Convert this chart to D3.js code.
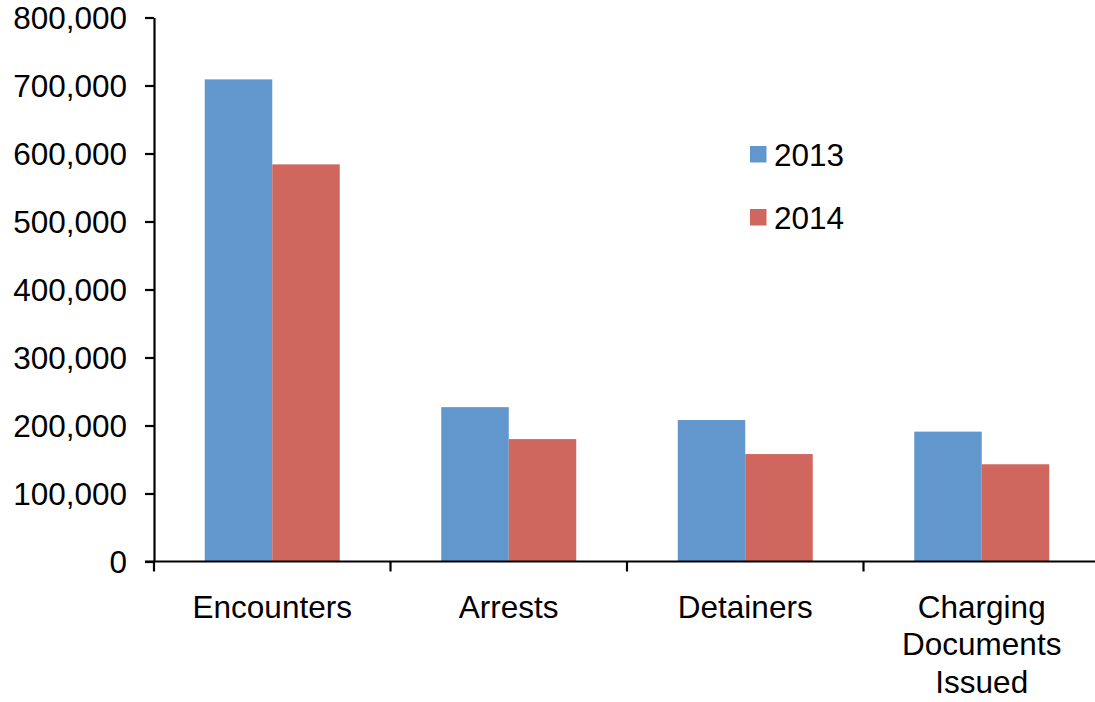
<!DOCTYPE html>
<html><head><meta charset="utf-8">
<script src="https://cdn.jsdelivr.net/npm/d3@7"></script>
<style>
html,body{margin:0;padding:0;background:#fff;}
svg{display:block;font-family:"Liberation Sans",Arial,sans-serif;}
</style></head>
<body><svg id="chart" width="1095" height="702"></svg>
<script>
const categories = ["Encounters", "Arrests", "Detainers", "Charging Documents Issued"];
const categoryLines = [["Encounters"], ["Arrests"], ["Detainers"], ["Charging", "Documents", "Issued"]];
const seriesNames = ["2013", "2014"];
const values2013 = [709000, 227000, 208000, 191000];
const values2014 = [584000, 180000, 158000, 143000];
const yTicks = [0, 100000, 200000, 300000, 400000, 500000, 600000, 700000, 800000];
const colors = ["#6197cc", "#cf675f"];

(function () {
const svg = d3.select("#chart");
const mLeft = 154, mRight = 1100, mTop = 17.5, mBottom = 561.5;
const FS = 31.5;

const x0 = d3.scaleBand().domain(categories).range([mLeft, mRight]).padding(0);
const x1 = d3.scaleBand().domain(seriesNames).range([0, x0.bandwidth()]).paddingInner(0).paddingOuter(0.752);
const y = d3.scaleLinear().domain([0, 800000]).range([mBottom, mTop]);

const data = categories.map((c, i) => ({cat: c, vals: [values2013[i], values2014[i]]}));

// bars
const g = svg.append("g");
data.forEach(d => {
  g.selectAll(null).data(seriesNames.map((s, j) => ({s, v: d.vals[j], j})))
    .enter().append("rect")
    .attr("x", e => x0(d.cat) + x1(e.s))
    .attr("y", e => y(e.v))
    .attr("width", x1.bandwidth())
    .attr("height", e => mBottom - y(e.v))
    .attr("fill", e => colors[e.j]);
});

// y axis
const yAxis = d3.axisLeft(y).tickValues(yTicks).tickSize(9).tickSizeOuter(0).tickPadding(18)
  .tickFormat(d3.format(","));
const ya = svg.append("g").attr("transform", `translate(${mLeft},0)`).call(yAxis);
ya.select(".domain").attr("stroke", "#000").attr("stroke-width", 2.2);
ya.selectAll(".tick line").attr("stroke", "#000").attr("stroke-width", 2.2);
ya.selectAll(".tick text").attr("font-size", FS).attr("fill", "#000")
  .attr("font-family", "Liberation Sans, Arial, sans-serif").attr("dy", "0.36em");

// x axis
const xa = svg.append("g").attr("transform", `translate(0,${mBottom})`);
xa.append("line").attr("x1", mLeft - 9).attr("x2", mRight).attr("y1", 0).attr("y2", 0)
  .attr("stroke", "#000").attr("stroke-width", 2.2);
const bounds = categories.map(c => x0(c)).concat([x0(categories[categories.length - 1]) + x0.bandwidth()]);
xa.selectAll(".xt").data(bounds).enter().append("line")
  .attr("x1", d => d).attr("x2", d => d).attr("y1", 0).attr("y2", 10)
  .attr("stroke", "#000").attr("stroke-width", 2.2);
categories.forEach((c, i) => {
  const t = xa.append("text").attr("text-anchor", "middle").attr("font-size", FS).attr("fill", "#000")
    .attr("x", x0(c) + x0.bandwidth() / 2).attr("y", 56);
  categoryLines[i].forEach((ln, k) => {
    t.append("tspan").attr("x", x0(c) + x0.bandwidth() / 2).attr("dy", k === 0 ? 0 : 37.5).text(ln);
  });
});

// legend
const lg = svg.append("g").attr("transform", "translate(750,146)");
seriesNames.forEach((s, j) => {
  lg.append("rect").attr("x", 0).attr("y", j * 63).attr("width", 16.5).attr("height", 16.5).attr("fill", colors[j]);
  lg.append("text").attr("x", 24).attr("y", j * 63 + 8.5).attr("dy", "0.36em")
    .attr("font-size", FS).attr("fill", "#000").text(s);
});
})();
</script></body></html>
